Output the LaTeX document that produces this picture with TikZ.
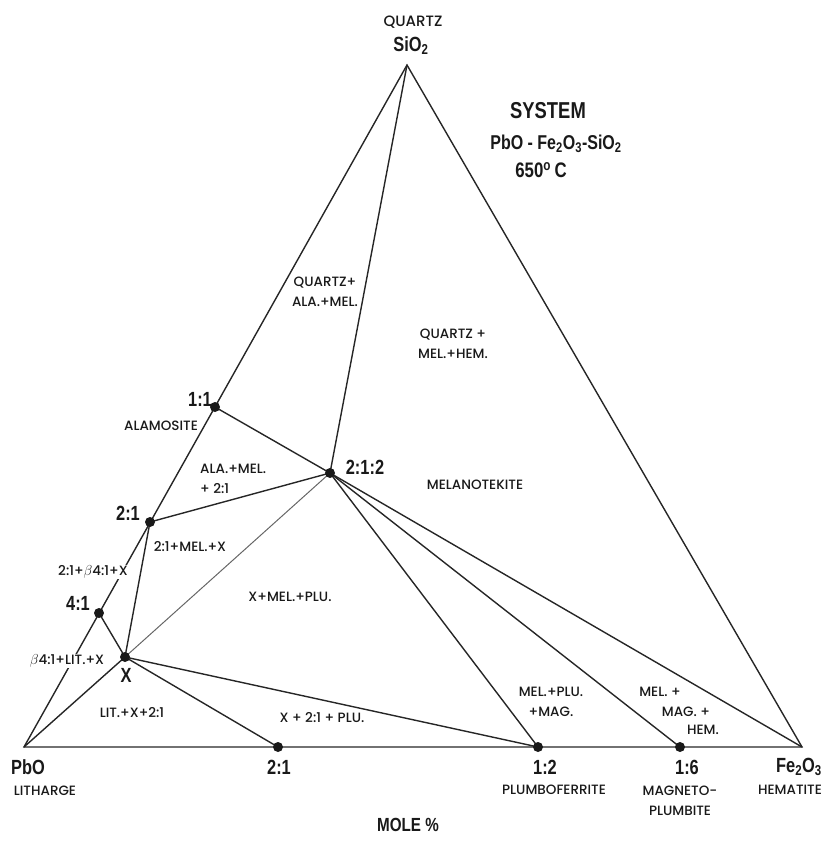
\documentclass[tikz,border=0pt]{standalone}
\usepackage{fontspec}
\setmainfont{Poppins Medium}
\newfontfamily\numfont[FakeStretch=0.8]{Liberation Sans}
\newcommand\lo[1]{\textsubscript{#1}}
\tikzset{
  tie/.style={draw=black!85,line width=1.4pt},
  dot/.style={circle,fill=black!90,inner sep=0pt,minimum size=10pt},
  phase/.style={font=\fontsize{13.5}{20}\selectfont,text=black!90,inner sep=1pt,align=center},
  gap/.style={phase,fill=white},
  cmp/.style={font=\numfont\bfseries\fontsize{20.5}{22}\selectfont,text=black!90,inner sep=1pt},
  head/.style={cmp,font=\numfont\bfseries\fontsize{20}{22}\selectfont}
}

\begin{document}
\begin{tikzpicture}[x=1pt,y=-1pt]
	\useasboundingbox (0,0) rectangle (823,847);
	% compositions
	\foreach \n/\x/\y in {sio2/407/65, pbo/24/747, fe2o3/802/747, c11/215/407, c21/150/522, c41/99/613, cx/125/657, c212/330/473, b21/278/747, b12/538/747, b16/680/747}
		\coordinate (\n) at (\x,\y);
	\draw[tie] (sio2) -- (pbo) -- (fe2o3) -- cycle;
	\foreach \a/\b in {c11/c212, c21/c212, c212/sio2, c21/cx, c41/cx, cx/pbo, cx/b21, cx/b12, c212/b12, c212/b16, c212/fe2o3}
		\draw[tie] (\a) -- (\b);
	\draw[tie,draw=black!60,line width=1pt] (cx) -- (c212);
	\foreach \n in {c11,c21,c41,cx,c212,b21,b12,b16}
		\node[dot] (d\n) at (\n) {};
	% heading
	\node[head,font=\numfont\bfseries\fontsize{23}{24}\selectfont] (system) at (548,111) {SYSTEM};
	\node[head] (formula) at (556,144) {PbO - Fe\lo2O\lo3-SiO\lo2};
	\node[head,font=\numfont\bfseries\fontsize{21}{22}\selectfont] (temp) at (541,170) {650\textsuperscript{o}\,C};
	% compound labels
	\foreach \n/\x/\y/\t in {
		nsio2/411/46/{SiO\lo2},
		n11/200/399/1:1,
		n21/128/513/2:1,
		n41/78/603/4:1,
		nx/126/675/X,
		n212/365/467/2:1:2,
		npbo/28/767/PbO,
		nb21/279/767/2:1,
		nb12/545/767/1:2,
		nb16/687/767/1:6,
		nfe/799/767/{Fe\lo2O\lo3}}
		\node[cmp] (\n) at (\x,\y) {\t};
	\node[head,font=\numfont\bfseries\fontsize{19}{20}\selectfont] (mole) at (408,825) {MOLE \%};
	% phase fields and mineral names
	\foreach \n/\x/\y/\t in {
		qam/325/292/{QUARTZ+\\ALA.+MEL.},
		qmh/453/344/{QUARTZ +\\MEL.+HEM.},
		alamosite/161/426/ALAMOSITE,
		melanotekite/475/485/MELANOTEKITE,
		tmx/190/547/{2:1+MEL.+X},
		xmp/290/597/{X+MEL.+PLU.},
		ltx/132/713/{LIT.+X+2:1},
		xtp/322/718/{X + 2:1 + PLU.},
		mpm/551/702/{MEL.+PLU.\\+MAG.},
		mmha/660/692/{MEL. +},
		mmhb/686/712/{MAG. +},
		mmhc/703/730/{HEM.},
		litharge/45/791/LITHARGE,
		plumboferrite/554/790/PLUMBOFERRITE,
		magneto/680/801/{MAGNETO-\\PLUMBITE},
		hematite/790/790/HEMATITE}
		\node[phase] (\n) at (\x,\y) {\t};
	\node[phase,font=\fontsize{15}{16}\selectfont] (quartz) at (413,22) {QUARTZ};
	\node[phase,anchor=west,align=left] (amt) at (199,479) {ALA.+MEL.\\+ 2:1};
	% labels set over the PbO--SiO2 side
	\node[gap] (gba) at (93,572) {2:1+$\beta$4:1+X};
	\node[gap] (gbb) at (67,661) {$\beta$4:1+LIT.+X};
\end{tikzpicture}
\end{document}
